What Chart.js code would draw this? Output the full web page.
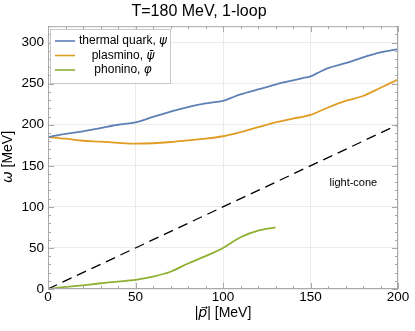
<!DOCTYPE html>
<html><head><meta charset="utf-8">
<script src="https://cdn.jsdelivr.net/npm/chart.js@4"></script>
<style>html,body{margin:0;padding:0;background:#fff}#wrap{width:415px;height:331px;position:relative}</style>
</head><body><div id="wrap"><canvas id="c" width="415" height="331"></canvas></div>
<script>
const titleText = "T=180 MeV, 1-loop";
const xTitleParts = ["|", "p\u20D7", "| [MeV]"];
const yTitleParts = ["\u03C9", " [MeV]"];
const seriesNames = ["thermal quark, ", "plasmino, ", "phonino, "];
const seriesSymbols = ["\u03C8", "\u03C8\u0304", "\u03C6"];
const xTicks = [0, 50, 100, 150, 200];
const yTicks = [0, 50, 100, 150, 200, 250, 300];
const momentumQ = [0,10,20,30,40,50,60,70,80,90,95,100,105,110,120,130,140,145,150,155,160,170,180,190,200];
const thermalQuark = [185,189,192,196,200,203,209.5,216,221.5,226,227.5,229,233,237,243,249,254,256.5,259,264,269,275,282,288,292];
const momentumP = [0,10,20,30,40,50,60,70,80,90,100,110,120,130,140,150,160,170,180,190,200];
const plasmino = [185,183,180.5,179.5,178,177,177.5,179,181,183,186,191,197,203,207.5,212,221,229,235,245,255];
const momentumPh = [0,10,20,30,40,50,60,70,80,90,100,110,120,130];
const phonino = [0,2.5,4.5,7,9,11,15,21,31,40,50,63,71,75];
const lightConeX = [0, 200];
const lightConeY = [0, 200];
const lightConeLabel = "light-cone";

const colors = ["#5E81B5", "#E19C24", "#8FB032"];
const pts = (xs, ys) => xs.map((x, i) => ({x, y: ys[i]}));
const FONT = "'Liberation Sans', Arial, sans-serif";
const GFONT = "'DejaVu Sans', 'Liberation Sans', sans-serif";

function drawParts(ctx, parts, fonts, cx, cy) {
  // draw consecutive text parts centered on (cx, cy)
  let widths = parts.map((p, i) => { ctx.font = fonts[i]; return ctx.measureText(p).width; });
  let total = widths.reduce((a, b) => a + b, 0);
  let x = cx - total / 2;
  ctx.textAlign = 'left'; ctx.textBaseline = 'middle';
  parts.forEach((p, i) => { ctx.font = fonts[i]; ctx.fillText(p, x, cy); x += widths[i]; });
}

const framePlugin = {
  id: 'frame',
  afterDatasetsDraw(chart) {
    const {ctx, chartArea: a, scales} = chart;
    ctx.save();
    ctx.fillStyle = '#000';
    ctx.font = "11px " + FONT;
    ctx.textAlign = 'center'; ctx.textBaseline = 'middle';
    ctx.fillText(lightConeLabel, scales.x.getPixelForValue(174.5), scales.y.getPixelForValue(129.5));
    // frame
    ctx.strokeStyle = '#a8a8a8'; ctx.lineWidth = 1;
    ctx.strokeRect(a.left + 0.5, a.top + 0.5, a.right - a.left - 1, a.bottom - a.top - 1);
    ctx.beginPath();
    for (let v = 0; v <= 200; v += 10) {
      const px = Math.round(scales.x.getPixelForValue(v)) + 0.5;
      const L = (v % 50 === 0) ? 6 : 3;
      ctx.moveTo(px, a.bottom); ctx.lineTo(px, a.bottom - L);
      ctx.moveTo(px, a.top); ctx.lineTo(px, a.top + L);
    }
    for (let v = 0; v <= 320; v += 10) {
      const py = Math.round(scales.y.getPixelForValue(v)) + 0.5;
      const L = (v % 50 === 0) ? 6 : 3;
      ctx.moveTo(a.left, py); ctx.lineTo(a.left + L, py);
      ctx.moveTo(a.right, py); ctx.lineTo(a.right - L, py);
    }
    ctx.stroke();
    // legend
    const bx = 50, by = 29, bw = 120, bh = 54;
    ctx.fillStyle = '#fff';
    ctx.fillRect(bx, by, bw, bh);
    ctx.strokeStyle = '#c8c8c8';
    ctx.strokeRect(bx + 0.5, by + 0.5, bw, bh);
    const rows = [41, 55.5, 70];
    rows.forEach((y, i) => {
      ctx.strokeStyle = colors[i]; ctx.lineWidth = 1.6;
      ctx.beginPath(); ctx.moveTo(55, y); ctx.lineTo(75, y); ctx.stroke();
      ctx.fillStyle = '#000';
      drawParts(ctx, [seriesNames[i], seriesSymbols[i]], ["12px " + FONT, "italic 12px " + GFONT], 123, y);
    });
    // axis titles
    ctx.fillStyle = '#000';
    drawParts(ctx, xTitleParts, ["14px " + FONT, "italic 14px " + GFONT, "14px " + FONT], (a.left + a.right) / 2, 313);
    ctx.save();
    ctx.translate(8, 157);
    ctx.rotate(-Math.PI / 2);
    drawParts(ctx, yTitleParts, ["italic 14px " + GFONT, "14px " + FONT], 0, 0);
    ctx.restore();
    ctx.restore();
  }
};

const lineDs = (label, data, color) => ({
  label, data, borderColor: color, backgroundColor: color,
  borderWidth: 1.8, pointRadius: 0, showLine: true, fill: false,
  cubicInterpolationMode: 'monotone'
});

new Chart(document.getElementById('c'), {
  type: 'scatter',
  data: {
    datasets: [
      lineDs(seriesNames[0] + seriesSymbols[0], pts(momentumQ, thermalQuark), colors[0]),
      lineDs(seriesNames[1] + seriesSymbols[1], pts(momentumP, plasmino), colors[1]),
      lineDs(seriesNames[2] + seriesSymbols[2], pts(momentumPh, phonino), colors[2]),
      {label: lightConeLabel, data: pts(lightConeX, lightConeY), borderColor: '#000', borderWidth: 1.3,
       borderDash: [10, 6], pointRadius: 0, showLine: true, fill: false}
    ]
  },
  options: {
    responsive: false, animation: false,
    layout: {padding: {left: 0, right: 17, top: 0, bottom: 0}},
    plugins: {
      legend: {display: false}, tooltip: {enabled: false},
      title: {display: true, text: titleText, color: '#000',
        font: {family: FONT, size: 16, weight: 'normal'}, padding: {top: 2, bottom: 5}}
    },
    scales: {
      x: {
        type: 'linear', min: 0, max: 200,
        afterBuildTicks: s => { s.ticks = xTicks.map(v => ({value: v})); },
        afterFit: s => { s.height = 42; },
        grid: {color: '#ebebeb', drawTicks: false},
        border: {display: false},
        ticks: {color: '#000', font: {family: FONT, size: 13.5}, padding: 0, maxRotation: 0}
      },
      y: {
        type: 'linear', min: 0, max: 320,
        afterBuildTicks: s => { s.ticks = yTicks.map(v => ({value: v})); },
        afterFit: s => { s.width = 48; },
        grid: {color: '#ebebeb', drawTicks: false},
        border: {display: false},
        ticks: {color: '#000', font: {family: FONT, size: 13.5}, padding: 4}
      }
    }
  },
  plugins: [framePlugin]
});
</script></body></html>
